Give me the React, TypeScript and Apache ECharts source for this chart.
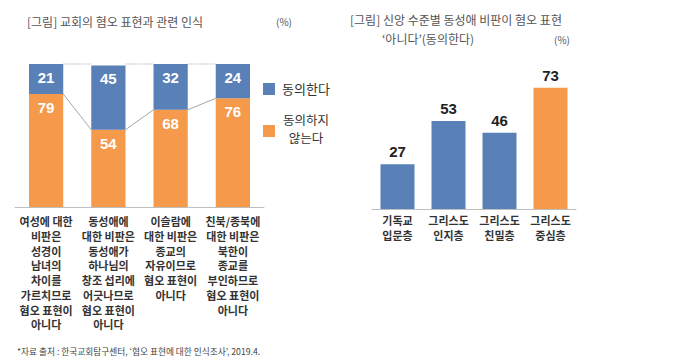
import React, { useEffect, useRef } from "react";
import * as echarts from "echarts";

const leftCategories = [
  "여성에 대한\n비판은\n성경이\n남녀의\n차이를\n가르치므로\n혐오 표현이\n아니다",
  "동성애에\n대한 비판은\n동성애가\n하나님의\n창조 섭리에\n어긋나므로\n혐오 표현이\n아니다",
  "이슬람에\n대한 비판은\n종교의\n자유이므로\n혐오 표현이\n아니다",
  "친북/종북에\n대한 비판은\n북한이\n종교를\n부인하므로\n혐오 표현이\n아니다",
];
const agreeValues = [21, 45, 32, 24];
const disagreeValues = [79, 54, 68, 76];

const rightCategories = ["기독교\n입문층", "그리스도\n인지층", "그리스도\n친밀층", "그리스도\n중심층"];
const rightValues = [27, 53, 46, 73];

const BLUE = "#5a81b7";
const ORANGE = "#f5994b";
const KR = "'Noto Sans CJK KR', sans-serif";
const NUM = "'Liberation Sans', 'Noto Sans CJK KR', sans-serif";

export default function App() {
  const ref = useRef<HTMLDivElement>(null);
  useEffect(() => {
    if (!ref.current) return;
    const chart = echarts.init(ref.current, null, { renderer: "svg" });
    const barRatio = 0.55;
    chart.setOption({
      animation: false,
      backgroundColor: "#ffffff",
      title: [
        {
          text: "[그림] 교회의 혐오 표현과 관련 인식",
          left: 27, top: 15, padding: 0,
          textStyle: { fontFamily: KR, fontSize: 12, fontWeight: "normal", color: "#555" },
        },
        {
          text: "(%)",
          left: 276, top: 16, padding: 0,
          textStyle: { fontFamily: KR, fontSize: 10, fontWeight: "normal", color: "#555" },
        },
        {
          text: "[그림] 신앙 수준별 동성애 비판이 혐오 표현",
          left: 350, top: 13, padding: 0,
          textStyle: { fontFamily: KR, fontSize: 12, fontWeight: "normal", color: "#555" },
        },
        {
          text: "‘아니다’(동의한다)",
          left: 382, top: 32, padding: 0,
          textStyle: { fontFamily: KR, fontSize: 12, fontWeight: "normal", color: "#555" },
        },
        {
          text: "(%)",
          left: 554, top: 34, padding: 0,
          textStyle: { fontFamily: KR, fontSize: 10, fontWeight: "normal", color: "#555" },
        },
        {
          text: "*자료 출처 : 한국교회탐구센터, ‘혐오 표현에 대한 인식조사’, 2019.4.",
          left: 17, top: 347, padding: 0,
          textStyle: { fontFamily: KR, fontSize: 8.7, fontWeight: "normal", color: "#444" },
        },
      ],
      graphic: [
        { type: "rect", shape: { x: 263, y: 83, width: 12, height: 12 }, style: { fill: BLUE } },
        {
          type: "text", x: 282, y: 88,
          style: { text: "동의한다", font: `13px ${KR}`, fill: "#333", textVerticalAlign: "middle" },
        },
        { type: "rect", shape: { x: 263, y: 125, width: 12, height: 12 }, style: { fill: ORANGE } },
        {
          type: "text", x: 306, y: 128.5,
          style: {
            text: "동의하지\n않는다", font: `12.5px ${KR}`, fill: "#333",
            textAlign: "center", textVerticalAlign: "middle", lineHeight: 17.5,
          },
        },
      ],
      grid: [
        { left: 15, top: 64, width: 249, height: 143 },
        { left: 372, top: 43, width: 204, height: 166 },
      ],
      xAxis: [
        {
          type: "category", gridIndex: 0, data: leftCategories,
          axisLine: { lineStyle: { color: "#bfbfbf" } },
          axisTick: { show: false },
          axisLabel: {
            interval: 0, margin: 7, fontFamily: KR, fontSize: 11, lineHeight: 14.7,
            color: "#333", fontWeight: "bold", align: "center",
          },
        },
        {
          type: "category", gridIndex: 1, data: rightCategories,
          axisLabel: {
            interval: 0, margin: 4, fontFamily: KR, fontSize: 11, lineHeight: 14.7,
            color: "#333", fontWeight: "bold", align: "center",
          },
          axisLine: { lineStyle: { color: "#bfbfbf" } },
          axisTick: { show: false },
        },
      ],
      yAxis: [
        { type: "value", gridIndex: 0, min: 0, max: 100, show: false },
        { type: "value", gridIndex: 1, min: 0, max: 100, show: false },
      ],
      series: [
        {
          name: "동의하지 않는다", type: "bar", stack: "s", xAxisIndex: 0, yAxisIndex: 0,
          data: disagreeValues, barWidth: `${barRatio * 100}%`,
          itemStyle: { color: ORANGE },
          label: {
            show: true, position: "insideTop", distance: 6,
            color: "#fff", fontFamily: NUM, fontSize: 15, fontWeight: "bold",
          },
        },
        {
          name: "동의한다", type: "bar", stack: "s", xAxisIndex: 0, yAxisIndex: 0,
          data: agreeValues, barWidth: `${barRatio * 100}%`,
          itemStyle: { color: BLUE },
          label: {
            show: true, position: "insideTop", distance: 6,
            color: "#fff", fontFamily: NUM, fontSize: 15, fontWeight: "bold",
          },
        },
        {
          type: "custom", xAxisIndex: 0, yAxisIndex: 0, silent: true,
          encode: { x: 0, y: 1 },
          data: disagreeValues.slice(0, -1).map((v, i) => [i, v, disagreeValues[i + 1]]),
          renderItem: (params: any, api: any) => {
            const i = api.value(0);
            const a = api.coord([i, api.value(1)]);
            const b = api.coord([i + 1, api.value(2)]);
            const t1 = api.coord([i, 100]);
            const t2 = api.coord([i + 1, 100]);
            const hw = (api.size([1, 0])[0] * barRatio) / 2;
            return {
              type: "group",
              children: [
                {
                  type: "line",
                  shape: { x1: a[0] + hw, y1: a[1], x2: b[0] - hw, y2: b[1] },
                  style: { stroke: "#a6a6a6", lineWidth: 1 },
                },
                {
                  type: "line",
                  shape: { x1: t1[0] + hw, y1: t1[1], x2: t2[0] - hw, y2: t2[1] },
                  style: { stroke: "#c0c0c0", lineWidth: 1, lineDash: [2, 1] },
                },
              ],
            };
          },
        },
        {
          type: "bar", xAxisIndex: 1, yAxisIndex: 1, barWidth: 34,
          data: rightValues.map((v, i) => ({
            value: v,
            itemStyle: { color: i === rightValues.length - 1 ? ORANGE : BLUE },
          })),
          label: {
            show: true, position: "top", distance: 5,
            color: "#222", fontFamily: NUM, fontSize: 15, fontWeight: "bold",
          },
        },
      ],
    });
    return () => chart.dispose();
  }, []);
  return (
    <div
      ref={ref}
      style={{ position: "absolute", left: 0, top: 0, width: 693, height: 361 }}
    />
  );
}
